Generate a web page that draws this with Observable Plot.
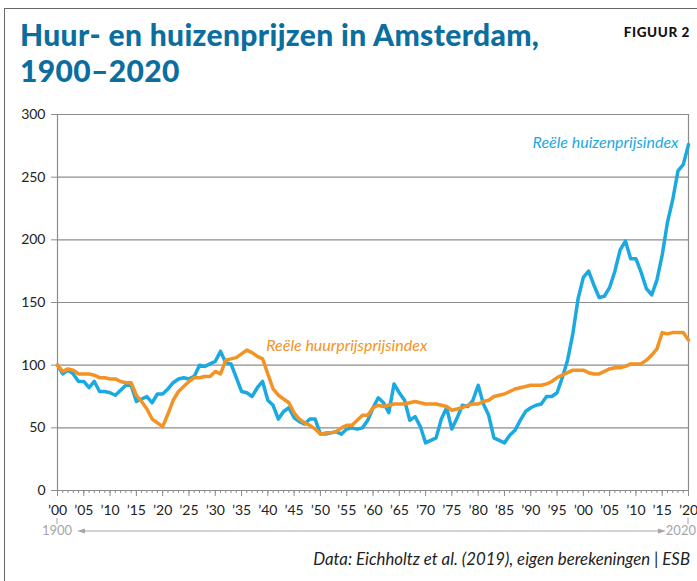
<!DOCTYPE html>
<html><head><meta charset="utf-8">
<script src="https://cdn.jsdelivr.net/npm/d3@7"></script>
<script src="https://cdn.jsdelivr.net/npm/@observablehq/plot@0.6"></script>
<style>
body{margin:0;background:#fff;width:697px;height:581px;overflow:hidden;position:relative;font-family:Lato,sans-serif;}
#frame{position:absolute;left:4px;top:8px;width:800px;height:700px;border-left:1.5px solid #666;border-top:1.5px solid #666;}
.t{position:absolute;left:20px;color:#0b6e9f;font-weight:900;font-size:30px;line-height:30px;white-space:nowrap;letter-spacing:0.35px;}
#fig{position:absolute;right:7px;top:26px;font-weight:900;font-size:13.5px;line-height:13px;letter-spacing:0.6px;color:#111;}
#chart{position:absolute;left:0;top:100px;}
#cap{position:absolute;right:7px;top:551px;font-style:italic;font-size:16.8px;line-height:16px;color:#222;white-space:nowrap;}
</style></head>
<body>
<div id="frame"></div>
<div class="t" style="top:19px">Huur- en huizenprijzen in Amsterdam,</div>
<div class="t" style="top:55px">1900–2020</div>
<div id="fig">FIGUUR 2</div>
<div id="chart"></div>
<div id="cap">Data: Eichholtz et al. (2019), eigen berekeningen | ESB</div>
<script>
const years = d3.range(1900, 2021);
const huizen = [
  100, 93, 96, 93, 87, 87, 82, 87, 79, 79,
  78, 76, 80, 84, 84, 71, 73, 75, 70, 77,
  77, 81, 86, 89, 90, 89, 91, 100, 99, 101,
  103, 111, 102, 101, 90, 79, 78, 75, 82, 87,
  72, 68, 57, 63, 66, 58, 55, 53, 57, 57,
  45, 45, 46, 47, 45, 49, 50, 49, 50, 56,
  66, 74, 70, 62, 85, 78, 72, 56, 59, 51,
  38, 40, 42, 57, 66, 49, 58, 68, 67, 72,
  84, 69, 60, 42, 40, 38, 44, 48, 56, 63,
  66, 68, 69, 75, 75, 78, 90, 104, 125, 153,
  170, 175, 164, 154, 155, 162, 175, 192, 199, 185,
  185, 174, 161, 156, 168, 188, 214, 232, 255, 260,
  276
];
const huur = [
  100, 95, 97, 96, 93, 93, 93, 92, 90, 90,
  89, 89, 87, 86, 86, 76, 71, 65, 57, 54,
  51, 61, 72, 79, 83, 87, 90, 90, 91, 91,
  95, 93, 104, 105, 106, 109, 112, 110, 107, 105,
  93, 81, 76, 73, 70, 62, 57, 54, 52, 49,
  45, 46, 46, 47, 50, 52, 52, 56, 60, 60,
  66, 68, 67, 68, 69, 69, 69, 70, 71, 70,
  69, 69, 69, 68, 67, 64, 65, 66, 68, 69,
  69, 71, 72, 75, 76, 77, 79, 81, 82, 83,
  84, 84, 84, 85, 87, 90, 92, 94, 96, 96,
  96, 94, 93, 93, 95, 97, 98, 98, 99, 101,
  101, 101, 104, 108, 113, 126, 125, 126, 126, 126,
  120
];
const yTicks = [0, 50, 100, 150, 200, 250, 300];
const xMajor = d3.range(1900, 2021, 5);
const seriesNames = ["Reële huizenprijsindex", "Reële huurprijsprijsindex"];
const rangeLabels = ["1900", "2020"];

const rows = years.map((yr, i) => ({year: yr, huizen: huizen[i], huur: huur[i]}));
const blue = "#1ba9e1", orange = "#f39325", grid = "#8c8c8c";

const chart = Plot.plot({
  width: 697, height: 440,
  marginTop: 14, marginLeft: 57, marginRight: 9, marginBottom: 50,
  style: {fontFamily: "Lato, sans-serif", fontSize: "14px", color: "#222", background: "transparent", overflow: "visible"},
  x: {domain: [1900, 2020], label: null},
  y: {domain: [0, 300], label: null},
  marks: [
    Plot.gridY(yTicks, {stroke: grid, strokeOpacity: 1, strokeWidth: 1.2}),
    Plot.ruleX([years[0], years[years.length - 1]], {stroke: grid, strokeWidth: 1.2}),
    Plot.axisY(yTicks, {tickSize: 6, tickPadding: 6, stroke: grid, fill: "#222", fontSize: 14, label: null}),
    Plot.axisX(years, {tickSize: 3, tickFormat: () => "", stroke: grid, label: null}),
    Plot.axisX(xMajor, {tickSize: 6, tickPadding: 9, stroke: grid, fill: "#222", fontSize: 14, label: null,
      tickFormat: d => "\u2019" + String(d % 100).padStart(2, "0")}),
    Plot.lineY(rows, {x: "year", y: "huizen", stroke: blue, strokeWidth: 3.5}),
    Plot.lineY(rows, {x: "year", y: "huur", stroke: orange, strokeWidth: 3.5}),
    Plot.text([seriesNames[0]], {x: 2020, y: 277, dx: -10, text: d => d, textAnchor: "end",
      fill: blue, fontStyle: "italic", fontSize: 16}),
    Plot.text([seriesNames[1]], {x: 1939.7, y: 115, text: d => d, textAnchor: "start",
      fill: orange, fontStyle: "italic", fontSize: 16})
  ]
});
document.getElementById("chart").appendChild(chart);

// bottom range row: 1900 <----> 2020
const xs = chart.scale("x"), ysc = chart.scale("y");
const x0 = xs.apply(1900), x1 = xs.apply(2020), y0 = ysc.apply(0);
const svg = d3.select(chart);
const g = svg.append("g").attr("fill", "#a6a6a6").attr("stroke", "#a6a6a6");
[x0, x1].forEach(x => g.append("line").attr("x1", x).attr("x2", x).attr("y1", y0 + 28).attr("y2", y0 + 34).attr("stroke-width", 1));
const ay = y0 + 41, ax1 = x0 + 20, ax2 = x1 - 22;
g.append("line").attr("x1", ax1 + 4).attr("x2", ax2 - 4).attr("y1", ay).attr("y2", ay).attr("stroke-width", 1.2);
g.append("path").attr("stroke", "none").attr("d", `M${ax1},${ay}L${ax1 + 8},${ay - 2.6}L${ax1 + 8},${ay + 2.6}Z`);
g.append("path").attr("stroke", "none").attr("d", `M${ax2},${ay}L${ax2 - 8},${ay - 2.6}L${ax2 - 8},${ay + 2.6}Z`);
g.append("text").attr("stroke", "none").attr("x", x0).attr("y", y0 + 45)
  .attr("text-anchor", "middle").attr("font-size", 13).text(rangeLabels[0]);
g.append("text").attr("stroke", "none").attr("x", 696).attr("y", y0 + 45)
  .attr("text-anchor", "end").attr("font-size", 13).text(rangeLabels[1]);
</script>
</body></html>
